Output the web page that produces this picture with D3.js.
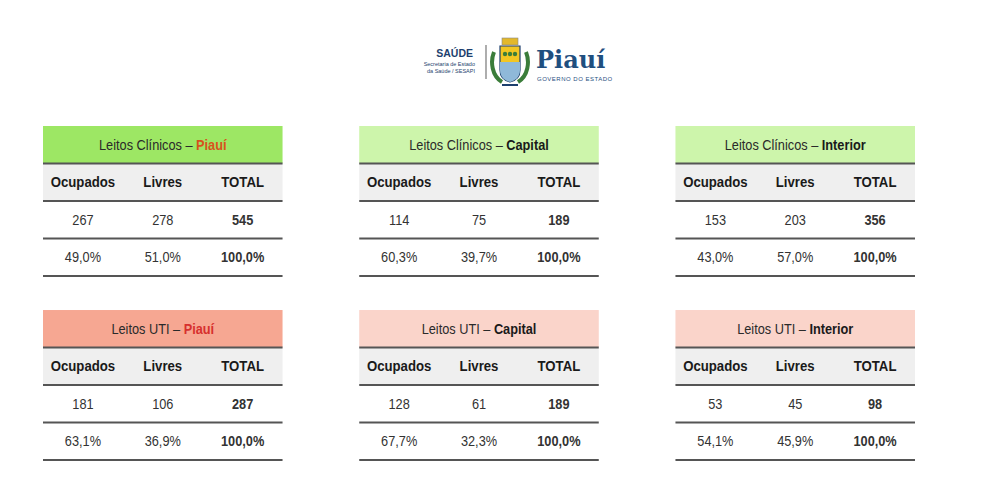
<!DOCTYPE html>
<html>
<head>
<meta charset="utf-8">
<script src="https://cdn.jsdelivr.net/npm/d3@7"></script>
<style>
  body { margin: 0; background: #fff; }
  svg { display: block; }
</style>
</head>
<body>
<div id="chart"></div>
<script>
// data
const sections = ["Leitos Clínicos", "Leitos UTI"];
const regions = ["Piauí", "Capital", "Interior"];
const columns = ["Ocupados", "Livres", "TOTAL"];
const ocupados = [[267, 114, 153], [181, 128, 53]];
const livres = [[278, 75, 203], [106, 61, 45]];
const totais = [[545, 189, 356], [287, 189, 98]];
const pctOcupados = [["49,0%", "60,3%", "43,0%"], ["63,1%", "67,7%", "54,1%"]];
const pctLivres = [["51,0%", "39,7%", "57,0%"], ["36,9%", "32,3%", "45,9%"]];
const pctTotal = "100,0%";

const width = 1000, height = 489;
const font = "'Liberation Sans', Arial, sans-serif";
const squeeze = 0.88; // the original font is a narrow one

const svg = d3.select("#chart")
  .append("svg")
  .attr("width", width)
  .attr("height", height)
  .style("font-family", font);

// table placement
const x = d3.scaleBand()
  .domain(regions)
  .range([43, 915])
  .paddingInner(0.2425);

const y = d3.scaleBand()
  .domain(sections)
  .range([126, 460])
  .paddingInner(0.185);

const rows = ["title", "head", "count", "pct"];
const r = d3.scaleBand()
  .domain(rows)
  .range([0, y.bandwidth()]);

const c = d3.scaleBand()
  .domain(columns)
  .range([0, x.bandwidth()]);

const headerFill = {
  "Leitos Clínicos": d => d === "Piauí" ? "#9de764" : "#cdf5ab",
  "Leitos UTI": d => d === "Piauí" ? "#f6a792" : "#fad4ca"
};
const regionColor = {
  "Leitos Clínicos": "#d9531c",
  "Leitos UTI": "#d7302e"
};

// centered, horizontally squeezed text
function cellText(sel, cx, cy) {
  return sel.attr("x", 0).attr("y", 0)
    .attr("text-anchor", "middle")
    .attr("transform", (d, i) => `translate(${typeof cx === "function" ? cx(d, i) : cx}, ${cy}) scale(${squeeze}, 1)`);
}

sections.forEach((sec, si) => {
  regions.forEach((reg, ri) => {
    const g = svg.append("g")
      .attr("transform", `translate(${x(reg)}, ${y(sec)})`);
    const w = x.bandwidth();
    const mid = (d, i) => c(columns[i]) + c.bandwidth() / 2;

    // title band
    g.append("rect")
      .attr("x", 0).attr("y", r("title"))
      .attr("width", w).attr("height", r.bandwidth())
      .attr("fill", headerFill[sec](reg));

    const t = g.append("text")
      .call(cellText, w / 2, r("title") + r.bandwidth() / 2 + 5)
      .attr("font-size", 14.5)
      .attr("fill", "#2a2a2a");
    t.append("tspan").text(sec + " – ");
    t.append("tspan")
      .attr("font-weight", "bold")
      .attr("fill", reg === "Piauí" ? regionColor[sec] : "#1a1a1a")
      .text(reg);

    // column header band
    g.append("rect")
      .attr("x", 0).attr("y", r("head"))
      .attr("width", w).attr("height", r.bandwidth())
      .attr("fill", "#efefef");

    g.selectAll("text.head")
      .data(columns)
      .join("text")
      .attr("class", "head")
      .call(cellText, mid, r("head") + r.bandwidth() / 2 + 5)
      .attr("font-size", 15)
      .attr("font-weight", "bold")
      .attr("fill", "#1a1a1a")
      .text(d => d);

    const counts = [ocupados[si][ri], livres[si][ri], totais[si][ri]];
    g.selectAll("text.count")
      .data(counts)
      .join("text")
      .attr("class", "count")
      .call(cellText, mid, r("count") + r.bandwidth() / 2 + 5)
      .attr("font-size", 14.5)
      .attr("font-weight", (d, i) => i === 2 ? "bold" : "normal")
      .attr("fill", "#333")
      .text(d => d);

    const pcts = [pctOcupados[si][ri], pctLivres[si][ri], pctTotal];
    g.selectAll("text.pct")
      .data(pcts)
      .join("text")
      .attr("class", "pct")
      .call(cellText, mid, r("pct") + r.bandwidth() / 2 + 5)
      .attr("font-size", 14.5)
      .attr("font-weight", (d, i) => i === 2 ? "bold" : "normal")
      .attr("fill", "#333")
      .text(d => d);

    // separator lines
    g.selectAll("line.sep")
      .data(rows)
      .join("line")
      .attr("class", "sep")
      .attr("x1", 0).attr("x2", w)
      .attr("y1", d => r(d) + r.bandwidth())
      .attr("y2", d => r(d) + r.bandwidth())
      .attr("stroke", "#555")
      .attr("stroke-width", 2);
  });
});

// logo
const logo = svg.append("g");
logo.append("text")
  .attr("x", 473).attr("y", 57)
  .attr("text-anchor", "end")
  .attr("font-size", 10.5)
  .attr("font-weight", "bold")
  .attr("fill", "#1d3f6e")
  .text("SAÚDE");
["Secretaria de Estado", "da Saúde / SESAPI"].forEach((s, i) => {
  logo.append("text")
    .attr("x", 475).attr("y", 66 + i * 7)
    .attr("text-anchor", "end")
    .attr("font-size", 5.5)
    .attr("fill", "#1d3f6e")
    .text(s);
});
logo.append("line")
  .attr("x1", 486).attr("x2", 486)
  .attr("y1", 45).attr("y2", 79)
  .attr("stroke", "#777").attr("stroke-width", 1.2);

// crest
const crest = logo.append("g").attr("transform", "translate(510, 62)");
crest.append("path")
  .attr("d", "M-16,-10 C-20,0 -18,14 -8,20 M16,-10 C20,0 18,14 8,20")
  .attr("fill", "none").attr("stroke", "#3b7d3a").attr("stroke-width", 4);
crest.append("path")
  .attr("d", "M-10,-16 L10,-16 L10,8 C10,16 4,19 0,20 C-4,19 -10,16 -10,8 Z")
  .attr("fill", "#f2c622").attr("stroke", "#1d3f6e").attr("stroke-width", 1.2);
crest.append("path")
  .attr("d", "M-10,0 L10,0 L10,8 C10,16 4,19 0,20 C-4,19 -10,16 -10,8 Z")
  .attr("fill", "#8fb9d9");
crest.append("rect")
  .attr("x", -8).attr("y", -24).attr("width", 16).attr("height", 7)
  .attr("fill", "#e3b82b").attr("stroke", "#888").attr("stroke-width", 0.6);
crest.append("path")
  .attr("d", "M-8,23 L8,23")
  .attr("stroke", "#1d3f6e").attr("stroke-width", 2);
[-5, 0, 5].forEach(dx => {
  crest.append("circle")
    .attr("cx", dx).attr("cy", -8).attr("r", 2.2)
    .attr("fill", "#3b7d3a");
});

logo.append("text")
  .attr("x", 536).attr("y", 68)
  .style("font-family", "'DejaVu Serif', 'Liberation Serif', serif")
  .attr("font-size", 24)
  .attr("font-weight", "bold")
  .attr("fill", "#1f4f7f")
  .text("Piauí");
logo.append("text")
  .attr("x", 537).attr("y", 81)
  .attr("font-size", 6)
  .attr("letter-spacing", 0.5)
  .attr("fill", "#1f4f7f")
  .text("GOVERNO DO ESTADO");
</script>
</body>
</html>
